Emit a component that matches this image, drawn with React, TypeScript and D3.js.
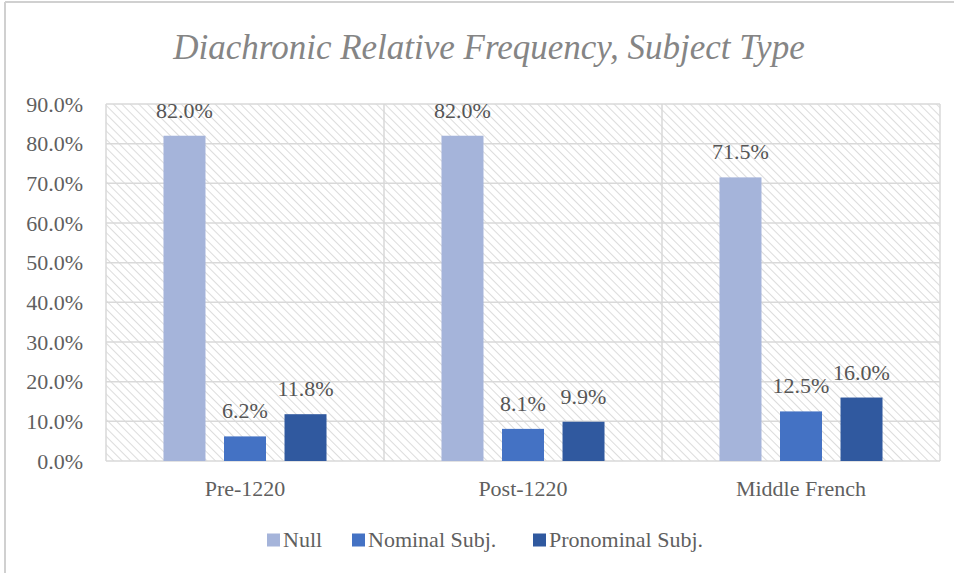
import React from "react";
import { scaleBand, scaleLinear, range } from "d3";

const categories = ["Pre-1220", "Post-1220", "Middle French"];
const seriesNames = ["Null", "Nominal Subj.", "Pronominal Subj."];
const nullValues = [82.0, 82.0, 71.5];
const nominalValues = [6.2, 8.1, 12.5];
const pronominalValues = [11.8, 9.9, 16.0];
const yTicks = [0, 10, 20, 30, 40, 50, 60, 70, 80, 90];
const colors = ["#A5B4DA", "#4472C4", "#30599F"];

const width = 954;
const height = 573;
const plot = { left: 106, top: 104, right: 940, bottom: 461 };

export default function App() {
  const series = [nullValues, nominalValues, pronominalValues];

  const x = scaleBand<string>()
    .domain(categories)
    .range([plot.left, plot.right]);
  const inner = scaleBand<number>()
    .domain(range(seriesNames.length))
    .range([0, x.bandwidth()])
    .paddingInner(0.306)
    .paddingOuter(0.95);
  const y = scaleLinear().domain([0, 90]).range([plot.bottom, plot.top]);

  const serif = { fontFamily: "Liberation Serif, DejaVu Serif, serif" };
  const grid = "#d9d9d9";
  const fs = 22;

  // posiciones de la leyenda (cuadrito + texto)
  const legendX = [267, 352, 533];

  return (
    <svg
      width={width}
      height={height}
      style={{ position: "absolute", left: 0, top: 0, background: "#fff" }}
    >
      <defs>
        <pattern id="hatch" width="6" height="6" patternUnits="userSpaceOnUse" patternTransform="rotate(-45)">
          <line x1="0" y1="0" x2="0" y2="6" stroke="#dcdcdc" strokeWidth="2" />
        </pattern>
      </defs>

      <line x1={5} x2={5} y1={2} y2={height} stroke="#d0d0d0" strokeWidth={2} />
      <line x1={5} x2={width} y1={2} y2={2} stroke="#d0d0d0" strokeWidth={2} />

      <text
        x={489}
        y={59}
        textAnchor="middle"
        fontStyle="italic"
        fontSize={35}
        fill="#858585"
        style={serif}
      >
        Diachronic Relative Frequency, Subject Type
      </text>

      <rect
        x={plot.left}
        y={plot.top}
        width={plot.right - plot.left}
        height={plot.bottom - plot.top}
        fill="url(#hatch)"
      />

      {yTicks.map((t) => (
        <g key={t}>
          <line x1={plot.left} x2={plot.right} y1={y(t)} y2={y(t)} stroke={grid} strokeWidth={1.5} />
          <text
            x={83}
            y={y(t)}
            dy="0.35em"
            textAnchor="end"
            fontSize={fs}
            fill="#5f5f5f"
            style={serif}
          >
            {t.toFixed(1)}%
          </text>
        </g>
      ))}

      {[...categories.map((c) => x(c)!), plot.right].map((v, i) => (
        <line key={i} x1={v} x2={v} y1={plot.top} y2={plot.bottom} stroke={grid} strokeWidth={1.5} />
      ))}

      {categories.map((c, ci) => (
        <g key={c}>
          {series.map((vals, si) => {
            const bx = x(c)! + inner(si)!;
            return (
              <g key={si}>
                <rect
                  x={bx}
                  y={y(vals[ci])}
                  width={inner.bandwidth()}
                  height={plot.bottom - y(vals[ci])}
                  fill={colors[si]}
                />
                <text
                  x={bx + inner.bandwidth() / 2}
                  y={y(vals[ci]) - 18}
                  textAnchor="middle"
                  fontSize={fs}
                  fill="#555555"
                  style={serif}
                >
                  {vals[ci].toFixed(1)}%
                </text>
              </g>
            );
          })}
          <text
            x={x(c)! + x.bandwidth() / 2}
            y={496}
            textAnchor="middle"
            fontSize={fs}
            fill="#5f5f5f"
            style={serif}
          >
            {c}
          </text>
        </g>
      ))}

      {seriesNames.map((s, i) => (
        <g key={s} transform={`translate(${legendX[i]},547)`}>
          <rect x={0} y={-13.5} width={13} height={13} fill={colors[i]} />
          <text x={16} y={0} fontSize={fs} fill="#5f5f5f" style={serif}>
            {s}
          </text>
        </g>
      ))}
    </svg>
  );
}
